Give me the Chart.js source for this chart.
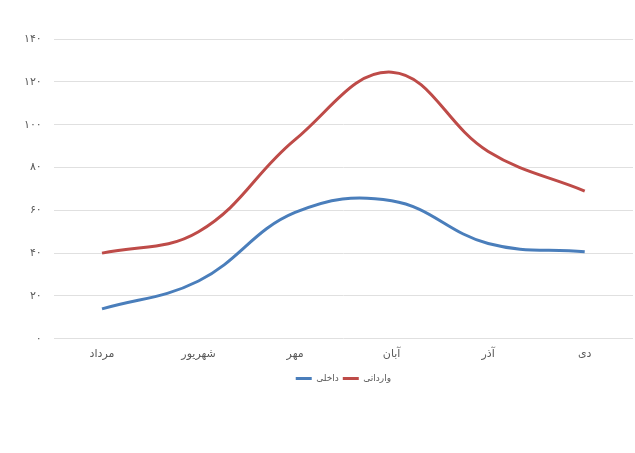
<!DOCTYPE html>
<html>
<head>
<meta charset="utf-8">
<script src="https://cdn.jsdelivr.net/npm/chart.js@4/dist/chart.umd.min.js"></script>
<style>
html,body{margin:0;padding:0;background:#fff;}
#wrap{width:635px;height:453px;position:relative;}
</style>
</head>
<body>
<div id="wrap"><canvas id="c"></canvas></div>
<script>
const categories = ['مرداد', 'شهریور', 'مهر', 'آبان', 'آذر', 'دی'];
const domestic = [14, 27, 59, 64.5, 44.5, 40.7];
const imported = [40, 50, 93, 124.5, 87.5, 69];
const seriesNames = ['داخلی', 'وارداتی'];
const yTickValues = [0, 20, 40, 60, 80, 100, 120, 140];
const yTickLabels = ['۰', '۲۰', '۴۰', '۶۰', '۸۰', '۱۰۰', '۱۲۰', '۱۴۰'];

const FONT = "'DejaVu Sans', sans-serif";
new Chart(document.getElementById('c'), {
  type: 'line',
  data: {
    labels: categories,
    datasets: [
      { label: seriesNames[0], data: domestic, borderColor: '#4a7ebb', backgroundColor: '#4a7ebb', borderWidth: 3, pointRadius: 0, pointStyle: 'line', tension: 0.4, fill: false },
      { label: seriesNames[1], data: imported, borderColor: '#be4b48', backgroundColor: '#be4b48', borderWidth: 3, pointRadius: 0, pointStyle: 'line', tension: 0.4, fill: false }
    ]
  },
  options: {
    responsive: true,
    maintainAspectRatio: false,
    animation: false,
    layout: { padding: { top: 39, left: 12, right: 2, bottom: 60 } },
    plugins: {
      legend: {
        position: 'bottom',
        fullSize: false,
        labels: {
          usePointStyle: true, pointStyle: 'line', pointStyleWidth: 16, boxHeight: 10,
          padding: 4,
          color: '#595959',
          font: { family: FONT, size: 9 }
        }
      },
      tooltip: { enabled: false }
    },
    scales: {
      x: {
        offset: true,
        grid: { display: false, drawTicks: false },
        border: { display: false },
        ticks: { color: '#595959', font: { family: FONT, size: 11 }, padding: 9 }
      },
      y: {
        min: 0, max: 140,
        afterBuildTicks: (axis) => { axis.ticks = yTickValues.map(v => ({ value: v })); },
        grid: { color: '#e0e0e0', lineWidth: 1, drawTicks: false },
        border: { display: false },
        ticks: {
          color: '#595959', font: { family: FONT, size: 11 }, padding: 12,
          callback: (v) => yTickLabels[yTickValues.indexOf(v)]
        }
      }
    }
  }
});
</script>
</body>
</html>
